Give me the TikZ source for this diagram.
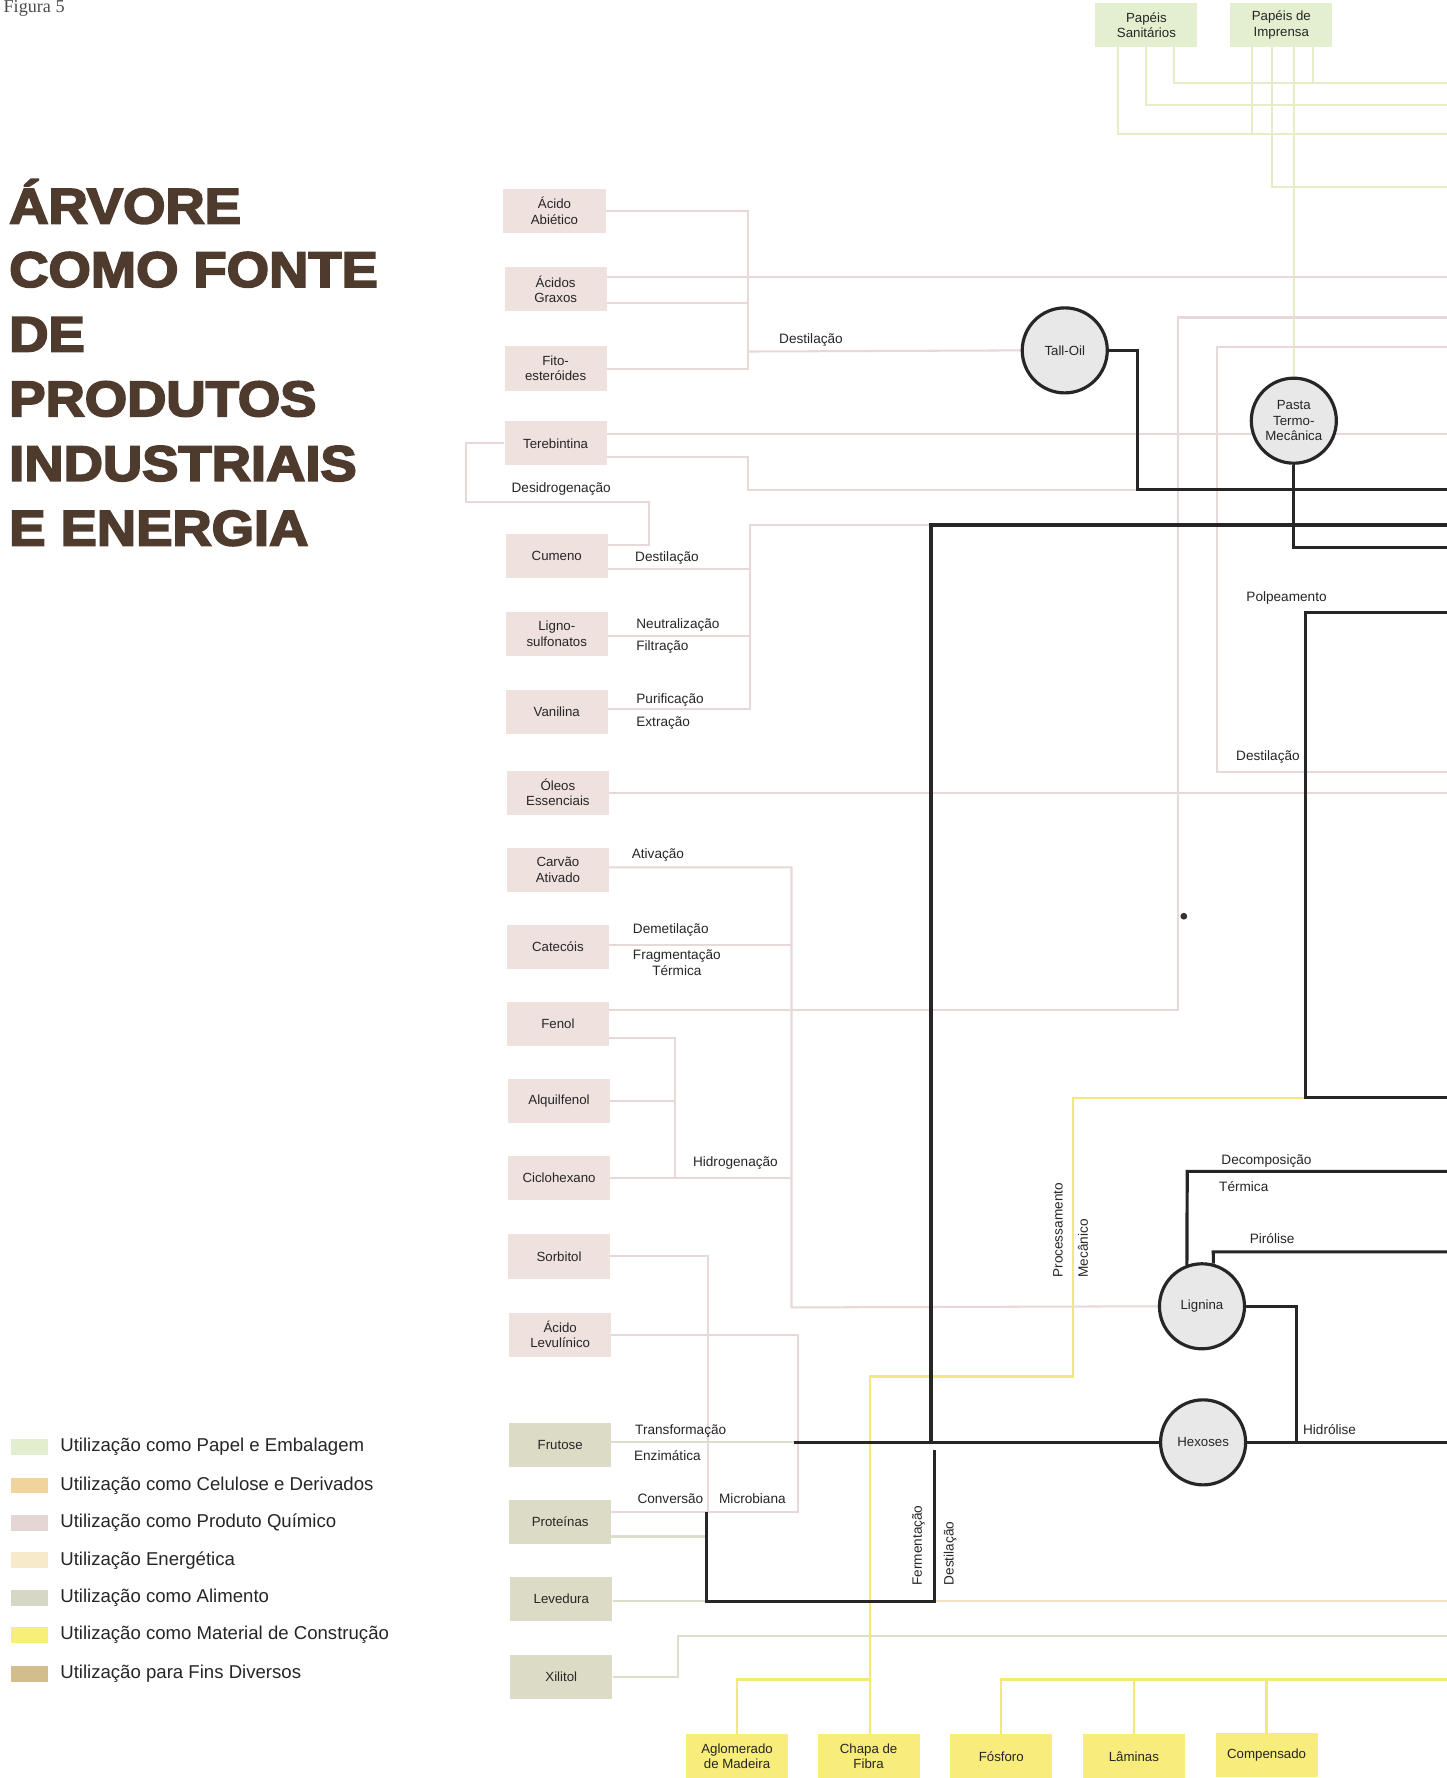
\documentclass[tikz,border=0pt]{standalone}
\usepackage{fontspec}
\setmainfont{Liberation Sans}
\newfontfamily\titlefont[FakeBold=3.5]{Liberation Sans Bold}
\newfontfamily\seriffont{Liberation Serif}
\usetikzlibrary{calc}
\pgfdeclarelayer{bg}
\pgfsetlayers{bg,main}
\definecolor{chemline}{HTML}{E6D9D7}
\definecolor{chembox}{HTML}{EEE1DE}
\definecolor{foodbox}{HTML}{DCDCC6}
\definecolor{foodline}{HTML}{DCDDCB}
\definecolor{paperbox}{HTML}{E3EFCF}
\definecolor{paperline}{HTML}{E6EDC8}
\definecolor{constbox}{HTML}{F8EC7A}
\definecolor{constline}{HTML}{F2EA78}
\definecolor{energyline}{HTML}{F1E4C6}
\definecolor{titlecol}{HTML}{4E3B2D}
\definecolor{circfill}{HTML}{E8E8E8}
\definecolor{lgA}{HTML}{E1EFD0}
\definecolor{lgB}{HTML}{F0D49C}
\definecolor{lgC}{HTML}{E5D6D6}
\definecolor{lgD}{HTML}{F6EACB}
\definecolor{lgE}{HTML}{D6D8C5}
\definecolor{lgF}{HTML}{F6F07A}
\definecolor{lgG}{HTML}{D3BD8C}
\tikzset{
  bx/.style={minimum width=90pt, minimum height=39pt, inner sep=1pt, align=center,
    font=\fontsize{11.7}{13.5}\selectfont, text=black!85},
  chembx/.style={bx, fill=chembox},
  foodbx/.style={bx, fill=foodbox},
  paperbx/.style={bx, fill=paperbox},
  constbx/.style={bx, fill=constbox},
  proc/.style={circle, draw=black!85, line width=2.8pt, fill=circfill, minimum size=75pt,
    inner sep=0pt, align=center, font=\fontsize{11.7}{13.5}\selectfont, text=black!85},
  chem/.style={draw=chemline, line width=1.8pt},
  food/.style={draw=foodline, line width=1.8pt},
  paper/.style={draw=paperline, line width=1.8pt},
  constr/.style={draw=constline, line width=2pt},
  energy/.style={draw=energyline, line width=1.8pt},
  blk/.style={draw=black!85, line width=2.8pt},
  lbl/.style={font=\fontsize{12}{13.5}\selectfont, inner sep=0pt, anchor=west, text=black!85},
  rlbl/.style={font=\fontsize{12}{13.5}\selectfont, inner sep=0pt, rotate=90, text=black!85},
  ttl/.style={font=\titlefont\fontsize{44}{44}\selectfont, text=titlecol, anchor=base west, inner sep=0pt},
  lgtxt/.style={font=\fontsize{16.4}{18}\selectfont, anchor=west, inner sep=0pt, text=black!85},
}
\begin{document}
\begin{tikzpicture}[x=1pt,y=-1pt]
\begin{pgfonlayer}{bg}
\fill[white] (0,0) rectangle (1276,1568);
\end{pgfonlayer}
\useasboundingbox (0,0) rectangle (1276,1568);

% ---------- heading ----------
\node[anchor=base west, inner sep=0pt, font=\seriffont\fontsize{16}{16}\selectfont, text=black!70] (fig) at (3,11) {Figura 5};
\node[ttl] (t1) at (8,197) {\scalebox{1.09}[1]{ÁRVORE}};
\node[ttl] (t2) at (8,253) {\scalebox{1.09}[1]{COMO FONTE}};
\node[ttl] (t3) at (8,310) {\scalebox{1.09}[1]{DE}};
\node[ttl] (t4) at (8,367) {\scalebox{1.09}[1]{PRODUTOS}};
\node[ttl] (t5) at (8,424) {\scalebox{1.09}[1]{INDUSTRIAIS}};
\node[ttl] (t6) at (8,481) {\scalebox{1.09}[1]{E ENERGIA}};

% ---------- legend ----------
\foreach \c/\t/\y [count=\i] in {lgA/Utilização como Papel e Embalagem/1276,
  lgB/Utilização como Celulose e Derivados/1310,
  lgC/Utilização como Produto Químico/1343,
  lgD/Utilização Energética/1376,
  lgE/Utilização como Alimento/1409,
  lgF/Utilização como Material de Construção/1442,
  lgG/Utilização para Fins Diversos/1476}{
  \fill[\c] (10,\y-7) rectangle (42,\y+7);
  \node[lgtxt] (lg\i) at (53,\y) {\t};
}

% ---------- boxes ----------
\node[chembx] (abiet) at (489,186) {Ácido\\Abiético};
\node[chembx] (graxos) at (490,255) {Ácidos\\Graxos};
\node[chembx] (fito) at (490,325) {Fito-\\esteróides};
\node[chembx] (tereb) at (490,391) {Terebintina};
\node[chembx] (cumeno) at (491,490) {Cumeno};
\node[chembx] (ligno) at (491,559) {Ligno-\\sulfonatos};
\node[chembx] (vanil) at (491,628) {Vanilina};
\node[chembx] (oleos) at (492,699) {Óleos\\Essenciais};
\node[chembx] (carvao) at (492,767) {Carvão\\Ativado};
\node[chembx] (catec) at (492,835) {Catecóis};
\node[chembx] (fenol) at (492,903) {Fenol};
\node[chembx] (alquil) at (493,971) {Alquilfenol};
\node[chembx] (ciclo) at (493,1039) {Ciclohexano};
\node[chembx] (sorb) at (493,1108) {Sorbitol};
\node[chembx] (levul) at (494,1177) {Ácido\\Levulínico};
\node[foodbx] (frut) at (494,1274) {Frutose};
\node[foodbx] (prot) at (494,1342) {Proteínas};
\node[foodbx] (leved) at (495,1410) {Levedura};
\node[foodbx] (xilit) at (495,1479) {Xilitol};

\node[paperbx] (sanit) at (1011,22) {Papéis\\Sanitários};
\node[paperbx] (impr) at (1130,22) {Papéis de\\Imprensa};

\node[constbx] (aglom) at (650,1549) {Aglomerado\\de Madeira};
\node[constbx] (chapa) at (766,1549) {Chapa de\\Fibra};
\node[constbx] (fosf) at (883,1549) {Fósforo};
\node[constbx] (lamin) at (1000,1549) {Lâminas};
\node[constbx] (compen) at (1117,1548) {Compensado};

% ---------- circles ----------
\node[proc] (tall) at (939,309) {Tall-Oil};
\node[proc] (pasta) at (1141,371) {Pasta\\Termo-\\Mecânica};
\node[proc] (lign) at (1060,1152) {Lignina};
\node[proc] (hexo) at (1061,1272) {Hexoses};

\begin{pgfonlayer}{bg}
% ---------- paper lines ----------
\draw[paper] (sanit.south -| 986,0) -- (986,118) -- (1276,118);
\draw[paper] (sanit.south -| 1011,0) -- (1011,93) -- (1276,93);
\draw[paper] (sanit.south -| 1035,0) -- (1035,73) -- (1276,73);
\draw[paper] (impr.south -| 1104,0) -- (1104,118);
\draw[paper] (impr.south -| 1122,0) -- (1122,165) -- (1276,165);
\draw[paper] (impr.south -| 1141,0) -- (pasta.north);
\draw[paper] (impr.south -| 1158,0) -- (1158,73);

% ---------- chemical lines ----------
\draw[chem] (abiet.east) -- (660,186) -- (660,325) -- (fito.east);
\draw[chem] (graxos.east |- 0,267) -- (660,267);
\draw[chem] (660,310) -- (tall.west);
\draw[chem] (graxos.east |- 0,244) -- (1276,244);
\draw[chem] (tereb.east |- 0,383) -- (1276,383);
\draw[chem] (tereb.east |- 0,403) -- (660,403) -- (660,432) -- (1276,432);
\draw[chem] (tereb.west) -- (411,391) -- (411,443) -- (572,443) -- (572,481) -- (cumeno.east |- 0,481);
\draw[chem] (cumeno.east |- 0,502) -- (661,502);
\draw[chem] (ligno.east |- 0,561) -- (661,561);
\draw[chem] (vanil.east |- 0,625) -- (661,625) -- (661,463) -- (821,463);
\draw[chem] (oleos.east) -- (1276,699);
\draw[chem] (carvao.east |- 0,765) -- (698,765) -- (698,1153) -- (lign.west);
\draw[chem] (catec.east |- 0,833) -- (698,833);
\draw[chem] (ciclo.east) -- (698,1039);
\draw[chem] (fenol.east |- 0,891) -- (1039,891) -- (1039,280) -- (1276,280);
\draw[chem] (fenol.east |- 0,915) -- (595,915) -- (595,1039);
\draw[chem] (alquil.east) -- (595,971);
\draw[chem] (1276,306) -- (1073,306) -- (1073,681) -- (1276,681);
\draw[chem] (sorb.east) -- (624,1108) -- (624,1333);
\draw[chem] (levul.east) -- (704,1177) -- (704,1333) -- (prot.east |- 0,1333);

% ---------- food / energy lines ----------
\draw[food] (frut.east |- 0,1272) -- (700,1272);
\draw[food] (prot.east |- 0,1355) -- (623,1355);
\draw[food] (leved.east |- 0,1412) -- (623,1412);
\draw[energy] (824,1412) -- (1276,1412);
\draw[food] (xilit.east) -- (598,1479) -- (598,1443) -- (1276,1443);

% ---------- construction lines ----------
\draw[constr] (1151,968) -- (946,968) -- (946,1214) -- (767,1214) -- (chapa.north -| 767,0);
\draw[constr] (aglom.north) -- (650,1481) -- (767,1481);
\draw[constr] (fosf.north) -- (883,1481) -- (1276,1481);
\draw[constr] (lamin.north) -- (1000,1481);
\draw[constr] (compen.north) -- (1117,1481);

% ---------- black lines ----------
\draw[blk] (tall.east) -- (1003,309) -- (1003,432) -- (1276,432);
\draw[blk] (pasta.south) -- (1141,483) -- (1276,483);
\draw[blk] (1276,463) -- (821,463) -- (821,1272);
\draw[blk] (1276,540) -- (1151,540) -- (1151,968) -- (1276,968);
\draw[blk] (1276,1033) -- (1047,1033) -- (lign.110);
\draw[blk] (1276,1104) -- (1070,1104) -- (lign.75);
\draw[blk] (lign.east) -- (1143,1152) -- (1143,1272);
\draw[blk] (hexo.east) -- (1276,1272);
\draw[blk] (700,1272) -- (hexo.west);
\draw[blk] (623,1333) -- (623,1412) -- (824,1412) -- (824,1279);
\end{pgfonlayer}

\fill[black!80] (1044,808) circle (3);

% ---------- labels ----------
\node[lbl] (l1) at (687,300) {Destilação};
\node[lbl] (l2) at (451,431) {Desidrogenação};
\node[lbl] (l3) at (560,492) {Destilação};
\node[lbl] (l4) at (561,551) {Neutralização};
\node[lbl] (l5) at (561,571) {Filtração};
\node[lbl] (l6) at (561,617) {Purificação};
\node[lbl] (l7) at (561,638) {Extração};
\node[lbl] (l8) at (557,754) {Ativação};
\node[lbl] (l9) at (558,820) {Demetilação};
\node[lbl, align=center] (l10) at (558,849) {Fragmentação\\Térmica};
\node[lbl] (l11) at (611,1026) {Hidrogenação};
\node[lbl] (l12) at (560,1262) {Transformação};
\node[lbl] (l13) at (559,1284) {Enzimática};
\node[lbl] (l14) at (562,1322) {Conversão};
\node[lbl] (l15) at (634,1322) {Microbiana};
\node[rlbl] (l16) at (810,1363) {Fermentação};
\node[rlbl] (l17) at (838,1370) {Destilação};
\node[rlbl] (l18) at (933,1085) {Processamento};
\node[rlbl] (l19) at (955,1101) {Mecânico};
\node[lbl] (l20) at (1099,527) {Polpeamento};
\node[lbl] (l21) at (1090,668) {Destilação};
\node[lbl] (l22) at (1077,1024) {Decomposição};
\node[lbl] (l23) at (1075,1046) {Térmica};
\node[lbl] (l24) at (1102,1092) {Pirólise};
\node[lbl] (l25) at (1149,1261) {Hidrólise};
\end{tikzpicture}
\end{document}
